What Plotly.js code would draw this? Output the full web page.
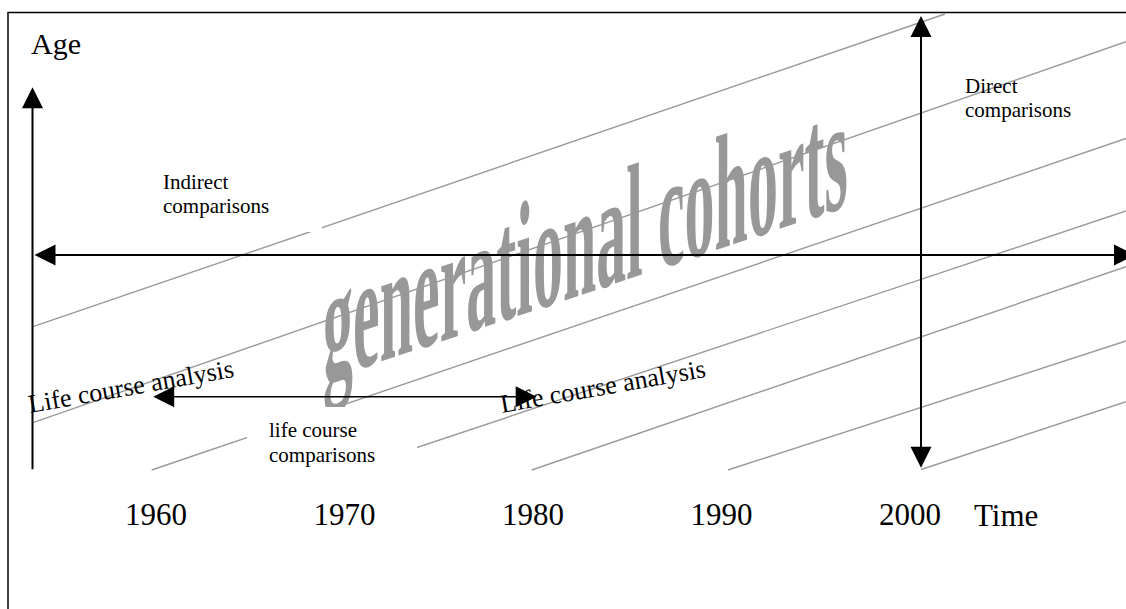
<!DOCTYPE html>
<html>
<head>
<meta charset="utf-8">
<script src="https://cdn.plot.ly/plotly-3.0.1.min.js"></script>
<style>
html, body { margin: 0; padding: 0; background: #ffffff; }
#chart { width: 1126px; height: 609px; }
</style>
</head>
<body>
<div id="chart"></div>
<script>
// ---- data (x = calendar year, y = diagram row, 0 at the top) ----
const tickYears = [1960, 1970, 1980, 1990, 2000];
const tickLabels = ['1960', '1970', '1980', '1990', '2000'];
const xRange = [1951.724, 2011.459];
const yRange = [609, 0];

// generational cohort lines (start / end of each diagonal)
const cohortStartYear = [1953.475, 1953.475, 1959.772, 1970.255, 1979.931, 1990.345, 2000.584];
const cohortStartRow  = [326.7, 422.7, 470, 470, 470, 470, 469.5];
const cohortEndYear   = [2001.857, 2011.459, 2011.459, 2011.459, 2011.459, 2011.459, 2011.459];
const cohortEndRow    = [14, 41.7, 138.5, 211, 266.7, 341, 401.7];

// black arrows: tail -> head
const arrowNames     = ['age axis', 'time axis', 'direct comparisons', 'life course comparisons'];
const arrowTailYear  = [1953.448, 1953.475, 2000.584, 1959.772];
const arrowTailRow   = [470.7, 255, 469.3, 396.7];
const arrowHeadYear  = [1953.448, 2011.936, 2000.584, 1980.196];
const arrowHeadRow   = [87.3, 255, 16, 396.7];
const arrowTwoHeaded = [false, true, true, true];

// small notes
const noteTexts = ['Indirect', 'comparisons', 'Direct', 'comparisons', 'life course', 'comparisons'];
const noteYear  = [1960.334, 1960.334, 2002.865, 2002.865, 1965.958, 1965.958];
const noteRow   = [182.2, 206.2, 85.6, 110.2, 430.2, 454.6];

// white text boxes behind notes
const boxLeftYear = [1959.204, 1964.828];
const boxTopRow   = [159, 406.5];

// rotated labels
const analysisTexts = ['Life course analysis', 'Life course analysis'];
const analysisYear  = [1958.674, 1983.698];
const analysisRow   = [386.3, 386.5];

const axisTitles = ['Age', 'Time'];
const axisTitleYear = [1953.316, 2005.093];
const axisTitleRow = [43, 515];

const watermarkText = 'generational cohorts';
const watermarkYear = 1982.806;
const watermarkRow = 238.5;

const frameYear = [1952.149, 2014];
const frameRow = [12.5, 640];

// ---- build ----
const serif = 'Liberation Serif, Times New Roman, serif';
const lx = [], ly = [];
for (let i = 0; i < cohortStartYear.length; i++) {
  lx.push(cohortStartYear[i], cohortEndYear[i], null);
  ly.push(cohortStartRow[i], cohortEndRow[i], null);
}
const data = [{
  type: 'scatter', mode: 'lines', x: lx, y: ly,
  line: { color: '#9a9a9a', width: 1.4 }, hoverinfo: 'skip', showlegend: false
}];

const annotations = [];
// watermark first (lowest)
annotations.push({
  xref: 'x', yref: 'y', x: watermarkYear, y: watermarkRow, text: '<b>' + watermarkText + '</b>',
  showarrow: false, xanchor: 'center', yanchor: 'middle', borderpad: 0,
  font: { family: serif, size: 60, color: '#989898' }
});
// arrows
for (let i = 0; i < arrowNames.length; i++) {
  const w = i === 3 ? 1.5 : 2;
  const s = 4.2 / w;
  annotations.push({
    xref: 'x', yref: 'y', axref: 'x', ayref: 'y',
    x: arrowHeadYear[i], y: arrowHeadRow[i], ax: arrowTailYear[i], ay: arrowTailRow[i],
    text: '', showarrow: true, arrowcolor: '#000000', arrowwidth: w,
    arrowhead: 2, arrowsize: s,
    arrowside: arrowTwoHeaded[i] ? 'end+start' : 'end',
    startarrowhead: 2, startarrowsize: s, standoff: 0, startstandoff: 0
  });
}
// white boxes
const boxW = [181, 170], boxH = [72.7, 80];
for (let i = 0; i < boxLeftYear.length; i++) {
  annotations.push({
    xref: 'x', yref: 'y', x: boxLeftYear[i], y: boxTopRow[i], text: '',
    showarrow: false, xanchor: 'left', yanchor: 'top', width: boxW[i], height: boxH[i],
    bgcolor: '#ffffff', borderpad: 0, borderwidth: 0
  });
}
// notes
for (let i = 0; i < noteTexts.length; i++) {
  annotations.push({
    xref: 'x', yref: 'y', x: noteYear[i], y: noteRow[i], text: noteTexts[i],
    showarrow: false, xanchor: 'left', yanchor: 'middle', borderpad: 0,
    font: { family: serif, size: 21, color: '#000000' }
  });
}
// rotated labels
for (let i = 0; i < analysisTexts.length; i++) {
  annotations.push({
    xref: 'x', yref: 'y', x: analysisYear[i], y: analysisRow[i], text: analysisTexts[i],
    showarrow: false, xanchor: 'center', yanchor: 'middle', textangle: -10, borderpad: 0,
    font: { family: serif, size: 26, color: '#000000' }
  });
}
// axis words
annotations.push({
  xref: 'x', yref: 'y', x: axisTitleYear[0], y: axisTitleRow[0], text: axisTitles[0],
  showarrow: false, xanchor: 'left', yanchor: 'middle', borderpad: 0,
  font: { family: serif, size: 30, color: '#000000' }
});
annotations.push({
  xref: 'x', yref: 'y', x: axisTitleYear[1], y: axisTitleRow[1], text: axisTitles[1],
  showarrow: false, xanchor: 'center', yanchor: 'middle', borderpad: 0,
  font: { family: serif, size: 31, color: '#000000' }
});

const layout = {
  width: 1126, height: 609,
  margin: { l: 0, r: 0, t: 0, b: 0 },
  paper_bgcolor: '#ffffff', plot_bgcolor: '#ffffff',
  showlegend: false,
  xaxis: {
    range: xRange, tickmode: 'array', tickvals: tickYears, ticktext: tickLabels,
    tickfont: { family: serif, size: 31, color: '#000000' },
    ticks: '', showgrid: false, zeroline: false, showline: false,
    anchor: 'free', position: 0.1905, fixedrange: true
  },
  yaxis: { range: yRange, visible: false, showgrid: false, zeroline: false, fixedrange: true },
  shapes: [{
    type: 'rect', xref: 'x', yref: 'y', layer: 'below',
    x0: frameYear[0], x1: frameYear[1], y0: frameRow[0], y1: frameRow[1],
    line: { color: '#000000', width: 1.5 }, fillcolor: 'rgba(0,0,0,0)'
  }],
  annotations: annotations
};

Plotly.newPlot('chart', data, layout, { staticPlot: true, displayModeBar: false }).then(function () {
  document.querySelectorAll('text.annotation-text').forEach(function (el) {
    if (el.textContent === watermarkText) {
      const b = el.getBBox();
      const cx = b.x + b.width / 2, cy = b.y + b.height / 2;
      el.setAttribute('transform',
        'translate(' + cx + ',' + cy + ') skewY(-18.4) scale(1,2.72) translate(' + (-cx) + ',' + (-cy) + ')');
    }
  });
});
</script>
</body>
</html>
